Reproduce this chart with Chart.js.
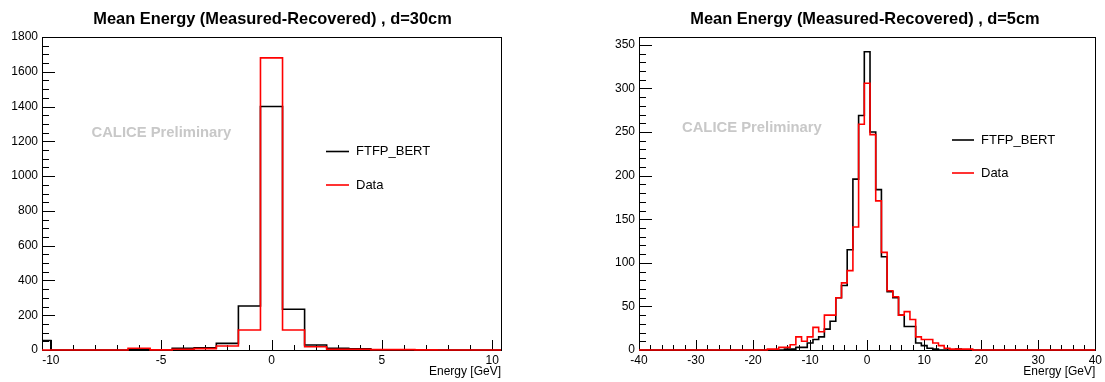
<!DOCTYPE html>
<html>
<head>
<meta charset="utf-8">
<script src="https://cdn.jsdelivr.net/npm/chart.js@4.4.1/dist/chart.umd.min.js"></script>
<style>
  html, body { margin: 0; padding: 0; background: #fff; }
  #wrap { position: relative; width: 1105px; height: 382px; overflow: hidden; }
  canvas { position: absolute; top: 0; }
  #c1 { left: 0; }
  #c2 { left: 552px; }
</style>
</head>
<body>
<div id="wrap">
  <canvas id="c1" width="552" height="382"></canvas>
  <canvas id="c2" width="553" height="382"></canvas>
</div>
<script>
// ---------------- data : d = 30 cm ----------------
const title30 = 'Mean Energy (Measured-Recovered) , d=30cm';
const binLow30 = [-10.4, -10, -9.5, -8.5, -7.5, -6.5, -5.5, -4.5, -3.5, -2.5, -1.5, -0.5,
                  0.5, 1.5, 2.5, 3.5, 4.5, 5.5, 6.5, 7.5, 8.5, 9.5];
const binEnd30 = 10.4;
const ftfp30 = [55, 0, 0, 0, 0, 2, 0, 10, 13, 38, 253, 1400, 234, 29, 10, 7, 1, 1, 0, 0, 0, 0];
const data30 = [0, 0, 0, 0, 0, 10, 1, 4, 8, 23, 115, 1680, 115, 19, 4, 4, 2, 2, 1, 0, 0, 0];
const xTicks30 = [-10, -5, 0, 5, 10];
const yTicks30 = [0, 200, 400, 600, 800, 1000, 1200, 1400, 1600, 1800];

// ---------------- data : d = 5 cm ----------------
const title5 = 'Mean Energy (Measured-Recovered) , d=5cm';
const binCenters5 = [-20, -19, -18, -17, -16, -15, -14, -13, -12, -11, -10, -9, -8, -7, -6, -5, -4, -3, -2, -1,
                     0, 1, 2, 3, 4, 5, 6, 7, 8, 9, 10, 11, 12, 13, 14, 15, 16, 17, 18, 19, 20];
const ftfp5 = [0, 0, 0, 0, 0, 0, 1, 1, 3, 3, 8, 12, 15, 24, 33, 60, 74, 115, 196, 269,
               342, 250, 184, 107, 67, 60, 40, 27, 27, 8, 5, 2, 1, 0, 0, 0, 1, 0, 0, 0, 0];
const data5 = [0, 0, 0, 1, 1, 3, 3, 6, 15, 10, 15, 26, 21, 40, 40, 60, 77, 91, 141, 259,
               306, 247, 171, 112, 68, 61, 40, 44, 35, 15, 12, 12, 8, 5, 2, 1, 1, 1, 1, 0, 0];
const xTicks5 = [-40, -30, -20, -10, 0, 10, 20, 30, 40];
const yTicks5 = [0, 50, 100, 150, 200, 250, 300, 350];

const legendLabels = ['FTFP_BERT', 'Data'];
const watermark = 'CALICE Preliminary';
const xAxisTitle = 'Energy [GeV]';

// ---------------- helpers ----------------
const FONT = '"Liberation Sans", Arial, Helvetica, sans-serif';

function stepsFromEdges(lows, end, vals) {
  const pts = lows.map((x, i) => ({ x: x, y: vals[i] }));
  pts.push({ x: end, y: vals[vals.length - 1] });
  return pts;
}
function stepsFromCenters(centers, vals, xmin, xmax) {
  const pts = [{ x: xmin, y: 0 }];
  centers.forEach((c, i) => pts.push({ x: c - 0.5, y: vals[i] }));
  pts.push({ x: centers[centers.length - 1] + 0.5, y: 0 });
  pts.push({ x: xmax, y: 0 });
  return pts;
}

const rootStyle = {
  id: 'rootStyle',
  beforeDatasetsDraw(chart, args, o) {
    const { ctx, chartArea: a, scales: { x, y } } = chart;
    ctx.save();
    ctx.strokeStyle = '#000';
    ctx.lineWidth = 1;
    const kx0 = Math.ceil(x.min / o.xMinor - 1e-9), kx1 = Math.floor(x.max / o.xMinor + 1e-9);
    const rx = Math.round(o.xMajor / o.xMinor);
    for (let k = kx0; k <= kx1; k++) {
      const px = Math.round(x.getPixelForValue(k * o.xMinor)) + 0.5;
      const len = (k % rx === 0) ? 10 : 5;
      ctx.beginPath(); ctx.moveTo(px, a.bottom); ctx.lineTo(px, a.bottom - len); ctx.stroke();
    }
    const ky0 = Math.ceil(y.min / o.yMinor - 1e-9), ky1 = Math.floor(y.max / o.yMinor + 1e-9);
    const ry = Math.round(o.yMajor / o.yMinor);
    for (let k = ky0; k <= ky1; k++) {
      const py = Math.round(y.getPixelForValue(k * o.yMinor)) + 0.5;
      const len = (k % ry === 0) ? 13 : 7;
      ctx.beginPath(); ctx.moveTo(a.left, py); ctx.lineTo(a.left + len, py); ctx.stroke();
    }
    ctx.strokeRect(Math.round(a.left) + 0.5, Math.round(a.top) + 0.5,
                   Math.round(a.right - a.left), Math.round(a.bottom - a.top));
    ctx.restore();
  },
  afterDraw(chart, args, o) {
    const { ctx } = chart;
    ctx.save();
    ctx.fillStyle = '#000';
    ctx.font = 'bold 16.4px ' + FONT;
    ctx.textAlign = 'center';
    ctx.textBaseline = 'alphabetic';
    ctx.fillText(o.title, o.titleX, 24);
    ctx.fillStyle = '#c8c8c8';
    ctx.font = 'bold 14.8px ' + FONT;
    ctx.textAlign = 'left';
    ctx.textBaseline = 'middle';
    ctx.fillText(watermark, o.wmX, o.wmY);
    ctx.font = '13px ' + FONT;
    const cols = ['#000000', '#ff0000'];
    legendLabels.forEach((lab, i) => {
      const ly = o.legY[i];
      ctx.strokeStyle = cols[i];
      ctx.lineWidth = 1.6;
      ctx.beginPath(); ctx.moveTo(o.legX, ly); ctx.lineTo(o.legX + o.legLen, ly); ctx.stroke();
      ctx.fillStyle = '#000';
      ctx.fillText(lab, o.legX + o.legLen + 7, ly);
    });
    ctx.restore();
  }
};

function makeChart(id, cfg) {
  return new Chart(document.getElementById(id), {
    type: 'line',
    data: {
      datasets: [
        { label: legendLabels[1], data: cfg.red, borderColor: '#ff0000', borderWidth: 1.6,
          stepped: true, pointRadius: 0, fill: false, order: 0, clip: false },
        { label: legendLabels[0], data: cfg.black, borderColor: '#000000', borderWidth: 1.6,
          stepped: true, pointRadius: 0, fill: false, order: 1, clip: false }
      ]
    },
    options: {
      responsive: false,
      animation: false,
      devicePixelRatio: 1,
      layout: { padding: cfg.padding },
      plugins: {
        legend: { display: false },
        tooltip: { enabled: false },
        rootStyle: cfg.style
      },
      scales: {
        x: {
          type: 'linear', min: cfg.xmin, max: cfg.xmax,
          grid: { display: false, drawTicks: false },
          border: { display: false },
          afterBuildTicks: (s) => { s.ticks = cfg.xTicks.map(v => ({ value: v })); },
          ticks: { color: '#000', font: { family: FONT, size: 12 }, padding: 3, maxRotation: 0,
                   autoSkip: false, callback: (v) => String(v) },
          title: { display: true, text: xAxisTitle, align: 'end', color: '#000',
                   font: { family: FONT, size: 12 }, padding: { top: 0, bottom: 3 } },
          afterFit: (s) => { s.height = 32; }
        },
        y: {
          type: 'linear', min: 0, max: cfg.ymax,
          grid: { display: false, drawTicks: false },
          border: { display: false },
          afterBuildTicks: (s) => { s.ticks = cfg.yTicks.map(v => ({ value: v })); },
          ticks: { color: '#000', font: { family: FONT, size: 12 }, padding: 4,
                   autoSkip: false, callback: (v) => String(v) },
          afterFit: (s) => { s.width = 40; }
        }
      }
    },
    plugins: [rootStyle]
  });
}

makeChart('c1', {
  black: stepsFromEdges(binLow30, binEnd30, ftfp30),
  red: stepsFromEdges(binLow30, binEnd30, data30),
  xmin: -10.4, xmax: 10.4, ymax: 1800,
  xTicks: xTicks30, yTicks: yTicks30,
  padding: { left: 2, right: 51, top: 37, bottom: 0 },
  style: { title: title30, titleX: 272.5, wmX: 91.5, wmY: 133,
           legX: 326, legLen: 23, legY: [151.5, 185],
           xMajor: 5, xMinor: 1, yMajor: 200, yMinor: 50 }
});

makeChart('c2', {
  black: stepsFromCenters(binCenters5, ftfp5, -40, 40),
  red: stepsFromCenters(binCenters5, data5, -40, 40),
  xmin: -40, xmax: 40, ymax: 359,
  xTicks: xTicks5, yTicks: yTicks5,
  padding: { left: 47, right: 7, top: 37, bottom: 0 },
  style: { title: title5, titleX: 313, wmX: 130, wmY: 128,
           legX: 400, legLen: 22, legY: [140, 173],
           xMajor: 10, xMinor: 2, yMajor: 50, yMinor: 10 }
});
</script>
</body>
</html>
